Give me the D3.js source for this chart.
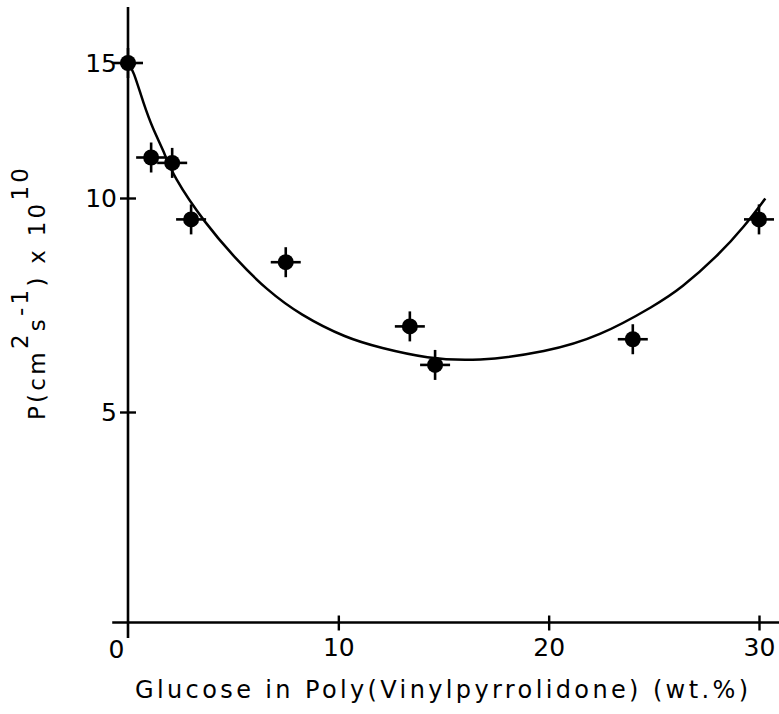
<!DOCTYPE html>
<html>
<head>
<meta charset="utf-8">
<script src="https://cdn.jsdelivr.net/npm/d3@7"></script>
<style>
  body { margin: 0; background: #fff; }
  text { font-family: "DejaVu Sans", sans-serif; fill: #000; }
</style>
</head>
<body>
<div id="chart"></div>
<script>
// measured points
var glucose = [0, 1.1, 2.1, 3.0, 7.5, 13.4, 14.6, 24, 30];
var perm = [15, 11.5, 11.3, 9.5, 8.5, 7.0, 6.1, 6.7, 9.5];

// hand drawn trend curve
var curveX = [0, 0.25, 0.73, 1.2, 1.68, 2.15, 3.66, 5.17, 6.6, 8.18, 10.4, 12.0, 14.2, 16.6, 19.9, 22.4, 25.1, 26.3, 28.0, 29.3, 30.3];
var curveY = [15, 14.74, 13.51, 12.52, 11.78, 10.79, 9.41, 8.55, 7.85, 7.27, 6.72, 6.50, 6.25, 6.18, 6.40, 6.76, 7.50, 7.89, 8.63, 9.33, 9.99];

var xTicks = [0, 10, 20, 30];
var yTicks = [5, 10, 15];

var width = 779, height = 714;

var svg = d3.select("#chart")
  .append("svg")
    .attr("width", width)
    .attr("height", height);

var x = d3.scaleLinear()
  .domain([0, 30])
  .range([128, 759]);

// the printed y axis is not evenly spaced, so use a piecewise scale
var y = d3.scaleLinear()
  .domain([0, 5, 10, 15])
  .range([622.5, 412, 198, 63]);

// x axis
var xAxis = svg.append("g")
  .attr("transform", "translate(0," + y(0) + ")")
  .call(d3.axisBottom(x).tickValues(xTicks).tickSize(8).tickPadding(8).tickFormat(d3.format("d")));
xAxis.select(".domain").remove();
xAxis.selectAll(".tick line").attr("y1", -7).attr("stroke-width", 2.4);
xAxis.selectAll(".tick text").style("font-size", "25px").attr("dy", "0.71em");
xAxis.selectAll(".tick").filter(function(d) { return d === 0; })
  .select("text").attr("dx", -12).attr("dy", "0.78em");
xAxis.selectAll(".tick").filter(function(d) { return d === 0; }).select("line").remove();
xAxis.append("line")
  .attr("x1", x(-0.75)).attr("x2", width)
  .attr("stroke", "#000").attr("stroke-width", 2.6);

// y axis
var yAxis = svg.append("g")
  .attr("transform", "translate(" + x(0) + ",0)")
  .call(d3.axisLeft(y).tickValues(yTicks).tickSize(8).tickPadding(3));
yAxis.select(".domain").remove();
yAxis.selectAll(".tick line").attr("x1", 8).attr("stroke-width", 2.4);
yAxis.selectAll(".tick text").style("font-size", "25px");
yAxis.append("line")
  .attr("y1", y(-0.37)).attr("y2", y(17.07))
  .attr("stroke", "#000").attr("stroke-width", 2.6);

// trend curve
var line = d3.line()
  .x(function(d) { return x(d[0]); })
  .y(function(d) { return y(d[1]); })
  .curve(d3.curveBasis);

svg.append("path")
  .datum(curveX.map(function(v, i) { return [v, curveY[i]]; }))
  .attr("d", line)
  .attr("fill", "none")
  .attr("stroke", "#000")
  .attr("stroke-width", 2.5);

// points with error crosses
var pts = svg.selectAll("g.pt")
  .data(glucose.map(function(v, i) { return [v, perm[i]]; }))
  .enter()
  .append("g")
    .attr("class", "pt")
    .attr("transform", function(d) { return "translate(" + x(d[0]) + "," + y(d[1]) + ")"; });

pts.append("line").attr("x1", -15).attr("x2", 15)
  .attr("stroke", "#000").attr("stroke-width", 2.6);
pts.append("line").attr("y1", -15).attr("y2", 15)
  .attr("stroke", "#000").attr("stroke-width", 2.6);
pts.append("circle").attr("r", 8).attr("fill", "#000");

// axis titles
svg.append("text")
  .attr("x", 135)
  .attr("y", 698)
  .attr("textLength", 613)
  .attr("lengthAdjust", "spacing")
  .style("font-size", "24px")
  .text("Glucose in Poly(Vinylpyrrolidone) (wt.%)");

var yt = svg.append("text")
  .attr("transform", "translate(45,420) rotate(-90)")
  .attr("textLength", 252)
  .attr("lengthAdjust", "spacing")
  .style("font-size", "23px");
yt.append("tspan").text("P(cm");
yt.append("tspan").attr("dy", -17).text("2");
yt.append("tspan").attr("dy", 17).text("s");
yt.append("tspan").attr("dy", -17).text("-1");
yt.append("tspan").attr("dy", 17).text(") x 10");
yt.append("tspan").attr("dy", -17).text("10");
</script>
</body>
</html>
